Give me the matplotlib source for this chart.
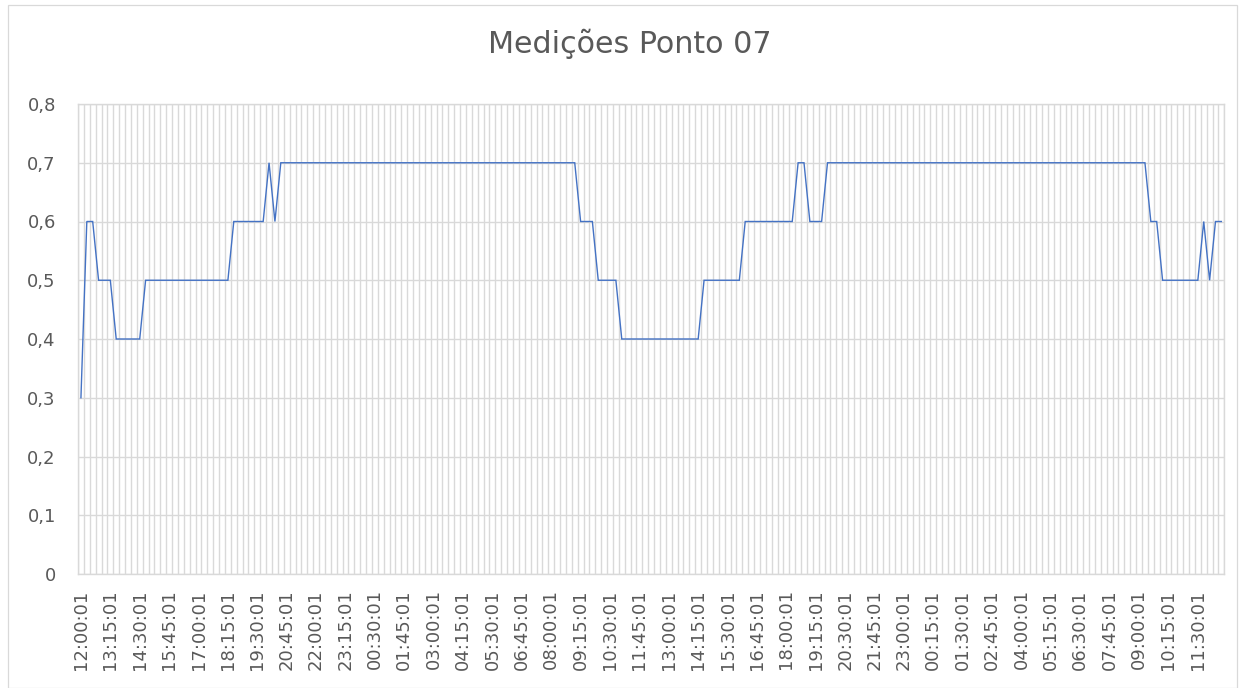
import matplotlib
matplotlib.use("Agg")
import matplotlib.pyplot as plt
from matplotlib.patches import Rectangle
import pandas as pd

title = "Medições Ponto 07"

# 15-minute categories starting at 12:00:01
categories = list(pd.date_range("2020-01-01 12:00:01", periods=195, freq="15min").strftime("%H:%M:%S"))

values = [
    0.3, 0.6, 0.6, 0.5, 0.5, 0.5, 0.4, 0.4, 0.4, 0.4,
    0.4, 0.5, 0.5, 0.5, 0.5, 0.5, 0.5, 0.5, 0.5, 0.5,
    0.5, 0.5, 0.5, 0.5, 0.5, 0.5, 0.6, 0.6, 0.6, 0.6,
    0.6, 0.6, 0.7, 0.6, 0.7, 0.7, 0.7, 0.7, 0.7, 0.7,
    0.7, 0.7, 0.7, 0.7, 0.7, 0.7, 0.7, 0.7, 0.7, 0.7,
    0.7, 0.7, 0.7, 0.7, 0.7, 0.7, 0.7, 0.7, 0.7, 0.7,
    0.7, 0.7, 0.7, 0.7, 0.7, 0.7, 0.7, 0.7, 0.7, 0.7,
    0.7, 0.7, 0.7, 0.7, 0.7, 0.7, 0.7, 0.7, 0.7, 0.7,
    0.7, 0.7, 0.7, 0.7, 0.7, 0.6, 0.6, 0.6, 0.5, 0.5,
    0.5, 0.5, 0.4, 0.4, 0.4, 0.4, 0.4, 0.4, 0.4, 0.4,
    0.4, 0.4, 0.4, 0.4, 0.4, 0.4, 0.5, 0.5, 0.5, 0.5,
    0.5, 0.5, 0.5, 0.6, 0.6, 0.6, 0.6, 0.6, 0.6, 0.6,
    0.6, 0.6, 0.7, 0.7, 0.6, 0.6, 0.6, 0.7, 0.7, 0.7,
    0.7, 0.7, 0.7, 0.7, 0.7, 0.7, 0.7, 0.7, 0.7, 0.7,
    0.7, 0.7, 0.7, 0.7, 0.7, 0.7, 0.7, 0.7, 0.7, 0.7,
    0.7, 0.7, 0.7, 0.7, 0.7, 0.7, 0.7, 0.7, 0.7, 0.7,
    0.7, 0.7, 0.7, 0.7, 0.7, 0.7, 0.7, 0.7, 0.7, 0.7,
    0.7, 0.7, 0.7, 0.7, 0.7, 0.7, 0.7, 0.7, 0.7, 0.7,
    0.7, 0.7, 0.6, 0.6, 0.5, 0.5, 0.5, 0.5, 0.5, 0.5,
    0.5, 0.6, 0.5, 0.6, 0.6,
]

y_ticks = [0, 0.1, 0.2, 0.3, 0.4, 0.5, 0.6, 0.7, 0.8]
y_ticklabels = ["0", "0,1", "0,2", "0,3", "0,4", "0,5", "0,6", "0,7", "0,8"]
label_step = 5

TEXT = "#595959"
GRID = "#D9D9D9"
LINE = "#4472C4"

plt.rcParams["font.family"] = ["DejaVu Sans"]

W, H = 1245, 688
fig = plt.figure(figsize=(W / 100, H / 100), dpi=100)
fig.patch.set_facecolor("white")

# chart border
fig.patches.append(Rectangle((7.5 / W, 0.5 / H), (1237 - 7.5) / W, (683 - 0.5) / H,
                             transform=fig.transFigure, fill=False,
                             edgecolor=GRID, linewidth=0.9))

left, right, top, bottom = 78, 1224.3, 104, 574
ax = fig.add_axes([left / W, 1 - bottom / H, (right - left) / W, (bottom - top) / H])

n = len(values)
x = list(range(n))
ax.plot(x, values, color=LINE, linewidth=1.0, zorder=3, solid_joinstyle="miter")

ax.set_xlim(-0.5, n - 0.5)
ax.set_ylim(0, 0.8)

major = list(range(0, n, label_step))
ax.set_xticks(major)
ax.set_xticklabels([categories[i] for i in major], rotation=90, fontsize=13, color=TEXT)
ax.set_xticks([i - 0.5 for i in range(n + 1)], minor=True)

ax.set_yticks(y_ticks)
ax.set_yticklabels(y_ticklabels, fontsize=13, color=TEXT)

ax.tick_params(axis="x", which="both", length=0, pad=11)
ax.tick_params(axis="y", which="both", length=0, pad=16)

ax.grid(False)
ax.xaxis.grid(True, which="minor", color=GRID, linewidth=1.0)
ax.yaxis.grid(True, which="major", color=GRID, linewidth=1.0)
ax.set_axisbelow(True)

for s in ax.spines.values():
    s.set_color(GRID)
    s.set_linewidth(1.0)

fig.text(629.5 / W, 1 - 53 / H, title, ha="center", va="baseline",
         fontsize=21.7, color=TEXT)

fig.savefig("out.png", dpi=100)
